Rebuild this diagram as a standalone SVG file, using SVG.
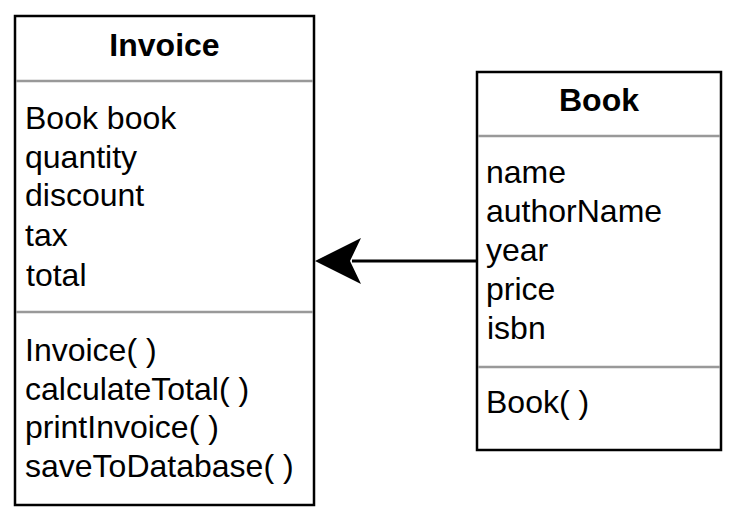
<svg xmlns="http://www.w3.org/2000/svg" width="738" height="518" viewBox="0 0 738 518">
<style>
.box{fill:#fff;stroke:#000;stroke-width:2.5}
.sep{stroke:#999;stroke-width:2.5}
.t{font-family:"Liberation Sans",Arial,sans-serif;font-size:32px;fill:#000}
.title{font-family:"Liberation Sans",Arial,sans-serif;font-size:32px;font-weight:bold;fill:#000;text-anchor:middle}
.edge{stroke:#000;stroke-width:3;fill:none}
</style>
<rect width="738" height="518" fill="#fff"/>
<g id="invoice">
<rect class="box" x="15" y="16" width="299" height="489"/>
<line class="sep" x1="16" y1="81" x2="313" y2="81"/>
<line class="sep" x1="16" y1="312" x2="313" y2="312"/>
<text class="title" x="164.5" y="56">Invoice</text>
<text class="t" x="25" y="129">Book book</text>
<text class="t" x="25" y="168">quantity</text>
<text class="t" x="25" y="206">discount</text>
<text class="t" x="25" y="246">tax</text>
<text class="t" x="26" y="286">total</text>
<text class="t" x="25" y="361">Invoice( )</text>
<text class="t" x="25" y="400">calculateTotal( )</text>
<text class="t" x="25" y="438">printInvoice( )</text>
<text class="t" x="25" y="477">saveToDatabase( )</text>
</g>
<g id="book">
<rect class="box" x="477" y="72" width="244" height="378"/>
<line class="sep" x1="478" y1="136" x2="720" y2="136"/>
<line class="sep" x1="478" y1="367" x2="720" y2="367"/>
<text class="title" x="599" y="111">Book</text>
<text class="t" x="486" y="183">name</text>
<text class="t" x="486" y="222">authorName</text>
<text class="t" x="486" y="261">year</text>
<text class="t" x="486" y="300">price</text>
<text class="t" x="487" y="339">isbn</text>
<text class="t" x="486" y="413">Book( )</text>
</g>
<g id="connectors">
<line class="edge" x1="477" y1="261" x2="352" y2="261"/>
<path d="M315,261 L361,238 L350,261 L361,284 Z" fill="#000"/>
</g>
</svg>
